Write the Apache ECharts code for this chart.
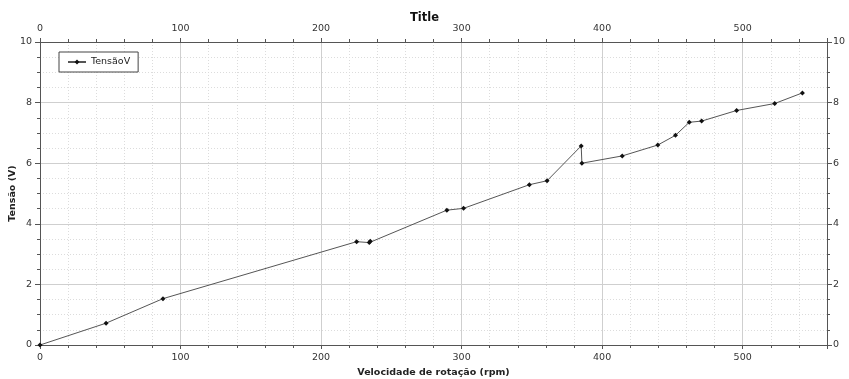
<!DOCTYPE html>
<html>
<head>
<meta charset="utf-8">
<script src="https://cdn.jsdelivr.net/npm/echarts@6/dist/echarts.min.js"></script>
<style>
html,body{margin:0;padding:0;background:#fff;}
#chart{width:849px;height:379px;}
</style>
</head>
<body>
<div id="chart"></div>
<script>
const chartTitle = 'Title';
const seriesName = 'TensãoV';
const xName = 'Velocidade de rotação (rpm)';
const yName = 'Tensão (V)';
const rpm = [0, 47, 87.5, 225.3, 234.3, 235, 289.5, 301.4, 348.2, 360.8, 385.1, 385.6, 414.3, 439.6, 452.2, 462.0, 470.8, 495.7, 522.8, 542.5];
const tensao = [0, 0.72, 1.53, 3.41, 3.38, 3.42, 4.45, 4.51, 5.29, 5.42, 6.57, 6.0, 6.24, 6.60, 6.92, 7.35, 7.39, 7.74, 7.97, 8.32];
const xMin = 0, xMax = 560, xMajor = 100, xMinor = 20;
const yMin = 0, yMax = 10, yMajor = 2;

const font = 'DejaVu Sans';
const labelStyle = {color: '#333', fontFamily: font, fontSize: 9.5};

function majorX(pos) {
  return {
    type: 'value', position: pos, min: xMin, max: xMax, interval: xMajor, z: 1,
    name: pos === 'bottom' ? xName : '',
    nameLocation: 'middle', nameGap: 21,
    nameTextStyle: {fontFamily: font, fontSize: 9.5, fontWeight: 'bold', color: '#222'},
    axisLine: {show: true, onZero: false, lineStyle: {color: '#555'}},
    axisTick: {show: true, length: 4, lineStyle: {color: '#555'}},
    axisLabel: Object.assign({margin: 8, formatter: v => (v % xMajor === 0 ? String(v) : '')}, labelStyle),
    splitLine: {show: pos === 'bottom', lineStyle: {color: '#cfcfcf', width: 1, type: 'solid'}}
  };
}
function minorX(pos) {
  return {
    type: 'value', position: pos, min: xMin, max: xMax, interval: xMinor, z: 0,
    axisLine: {show: false, onZero: false},
    axisTick: {show: true, length: 3, lineStyle: {color: '#555'}},
    axisLabel: {show: false},
    splitLine: {show: pos === 'bottom', lineStyle: {color: '#dcdcdc', width: 1, type: [1, 2]}}
  };
}
function yAx(pos) {
  return {
    type: 'value', position: pos, min: yMin, max: yMax, interval: yMajor, z: 1,
    name: pos === 'left' ? yName : '',
    nameLocation: 'middle', nameGap: 22, nameRotate: 90, nameMoveOverlap: false,
    nameTextStyle: {fontFamily: font, fontSize: 9.5, fontWeight: 'bold', color: '#222'},
    axisLine: {show: true, onZero: false, lineStyle: {color: '#555'}},
    axisTick: {show: true, length: 5, lineStyle: {color: '#555'}},
    minorTick: {show: true, splitNumber: 4, length: 3, lineStyle: {color: '#555'}},
    axisLabel: Object.assign({margin: pos === 'left' ? 8 : 6}, labelStyle),
    splitLine: {show: pos === 'left', lineStyle: {color: '#cfcfcf', width: 1}},
    minorSplitLine: {show: pos === 'left', lineStyle: {color: '#dcdcdc', width: 1, type: [1, 2]}}
  };
}

const chart = echarts.init(document.getElementById('chart'), null, {renderer: 'canvas'});
chart.setOption({
  animation: false,
  backgroundColor: '#fff',
  title: {text: chartTitle, left: 'center', top: 7, textStyle: {fontFamily: font, fontSize: 11.5, fontWeight: 'bold', color: '#111'}},
  legend: {
    left: 59, top: 52, orient: 'vertical',
    padding: [5, 8], borderColor: '#444', borderWidth: 1, backgroundColor: '#fff',
    itemWidth: 18, itemHeight: 6, itemGap: 4,
    textStyle: {fontFamily: font, fontSize: 9.5, color: '#222'},
    data: [seriesName]
  },
  grid: {left: 40, right: 22, top: 42, bottom: 34, containLabel: false, outerBoundsMode: 'none'},
  xAxis: [minorX('bottom'), minorX('top'), majorX('bottom'), majorX('top')],
  yAxis: [yAx('left'), yAx('right')],
  series: [{
    name: seriesName, type: 'line', xAxisIndex: 2, yAxisIndex: 0, z: 3,
    data: rpm.map((x, i) => [x, tensao[i]]),
    symbol: 'diamond', symbolSize: 5, showSymbol: true,
    lineStyle: {color: '#555', width: 1},
    itemStyle: {color: '#111'}
  }]
});
</script>
</body>
</html>
